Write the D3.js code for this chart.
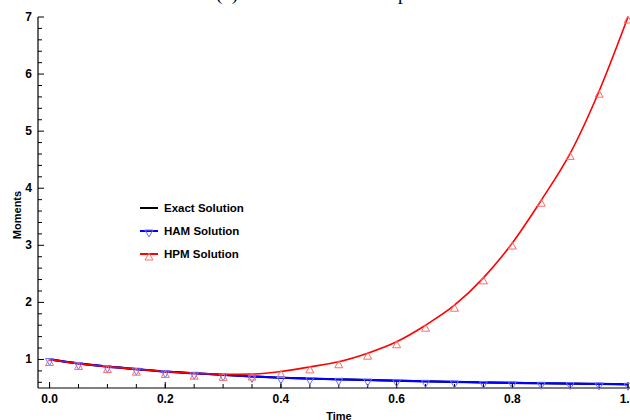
<!DOCTYPE html>
<html>
<head>
<meta charset="utf-8">
<script src="https://cdn.jsdelivr.net/npm/d3@7"></script>
<style>
  body { margin: 0; background: #fff; }
  svg { display: block; font-family: "Liberation Sans", Arial, sans-serif; }
</style>
</head>
<body>
<script>
// data
var times = [0, 0.05, 0.1, 0.15, 0.2, 0.25, 0.3, 0.35, 0.4, 0.45, 0.5,
             0.55, 0.6, 0.65, 0.7, 0.75, 0.8, 0.85, 0.9, 0.95, 1.0];
var exactVals = [1.0, 0.93, 0.875, 0.83, 0.787, 0.758, 0.73, 0.703, 0.68, 0.665, 0.652,
                 0.64, 0.628, 0.617, 0.607, 0.598, 0.59, 0.583, 0.577, 0.571, 0.565];
var hamVals = exactVals.slice();
var hpmVals = [1.0, 0.93, 0.875, 0.83, 0.79, 0.76, 0.74, 0.745, 0.79, 0.87, 0.96,
               1.11, 1.31, 1.60, 1.95, 2.43, 3.04, 3.79, 4.61, 5.70, 7.0];
var xTicks = [0, 0.2, 0.4, 0.6, 0.8, 1.0];
var yTicks = [1, 2, 3, 4, 5, 6, 7];
var legendNames = ["Exact Solution", "HAM Solution", "HPM Solution"];

var width = 630, height = 420;

var svg = d3.select("body").append("svg")
  .attr("width", width)
  .attr("height", height);

var x = d3.scaleLinear().domain([-0.02, 1.0]).range([38, 628]);
var y = d3.scaleLinear().domain([0.5, 7]).range([388, 17]);

// title (cut off at the top like the original)
svg.append("text")
  .attr("x", 216).attr("y", 0)
  .attr("font-family", "Liberation Serif, serif")
  .attr("font-size", 19)
  .text("(b) Zeroth moment comparison");

// y axis
var yAxis = svg.append("g").attr("transform", "translate(38,0)");
yAxis.append("line").attr("x1", 0).attr("x2", 0).attr("y1", y(7)).attr("y2", y(0.5))
  .attr("stroke", "#000").attr("stroke-width", 1.2);
yAxis.selectAll(".minor").data(d3.range(6, 70, 2).map(function(d) { return d / 10; }).filter(function(d) { return d % 1 !== 0; }))
  .enter().append("line")
  .attr("x1", 0).attr("x2", 4)
  .attr("y1", function(d) { return y(d); }).attr("y2", function(d) { return y(d); })
  .attr("stroke", "#000");
yAxis.selectAll(".major").data(yTicks).enter().append("line")
  .attr("x1", 0).attr("x2", 6)
  .attr("y1", function(d) { return y(d); }).attr("y2", function(d) { return y(d); })
  .attr("stroke", "#000");
yAxis.selectAll("text").data(yTicks).enter().append("text")
  .attr("x", -6).attr("y", function(d) { return y(d) + 4; })
  .attr("text-anchor", "end")
  .attr("font-size", 12).attr("font-weight", "bold")
  .text(function(d) { return d; });

// x axis
var xAxis = svg.append("g").attr("transform", "translate(0,388)");
xAxis.append("line").attr("x1", 38).attr("x2", 630).attr("y1", 0).attr("y2", 0)
  .attr("stroke", "#000").attr("stroke-width", 1.2);
xAxis.selectAll(".minor").data(times).enter().append("line")
  .attr("x1", function(d) { return x(d); }).attr("x2", function(d) { return x(d); })
  .attr("y1", 0).attr("y2", -4)
  .attr("stroke", "#000");
xAxis.selectAll(".major").data(xTicks).enter().append("line")
  .attr("x1", function(d) { return x(d); }).attr("x2", function(d) { return x(d); })
  .attr("y1", 0).attr("y2", -6)
  .attr("stroke", "#000");
xAxis.selectAll("text").data(xTicks).enter().append("text")
  .attr("x", function(d) { return x(d); }).attr("y", 15)
  .attr("text-anchor", "middle")
  .attr("font-size", 12).attr("font-weight", "bold")
  .text(function(d) { return d.toFixed(1); });

// axis labels
svg.append("text")
  .attr("transform", "translate(21,215) rotate(-90)")
  .attr("text-anchor", "middle")
  .attr("font-size", 11).attr("font-weight", "bold")
  .text("Moments");
svg.append("text")
  .attr("x", 339).attr("y", 420)
  .attr("text-anchor", "middle")
  .attr("font-size", 11).attr("font-weight", "bold")
  .text("Time");

// lines
var line = d3.line()
  .x(function(d, i) { return x(times[i]); })
  .y(function(d) { return y(d); })
  .curve(d3.curveMonotoneX);

svg.append("path").datum(exactVals).attr("d", line)
  .attr("fill", "none").attr("stroke", "#000").attr("stroke-width", 2);
svg.append("path").datum(hamVals).attr("d", line)
  .attr("fill", "none").attr("stroke", "#0000ff").attr("stroke-width", 2.2);
svg.append("path").datum(hpmVals).attr("d", line)
  .attr("fill", "none").attr("stroke", "#ff0000").attr("stroke-width", 1.6);

// markers
function downTri(cx, cy) {
  return "M" + (cx - 4) + "," + (cy - 1) + "L" + (cx + 4) + "," + (cy - 1) + "L" + cx + "," + (cy + 6) + "Z";
}
function upTri(cx, cy) {
  return "M" + cx + "," + (cy - 1) + "L" + (cx + 4) + "," + (cy + 6) + "L" + (cx - 4) + "," + (cy + 6) + "Z";
}
svg.selectAll(".ham").data(hamVals).enter().append("path")
  .attr("d", function(d, i) { return downTri(x(times[i]), y(d)); })
  .attr("fill", "none").attr("stroke", "#6f6fff").attr("stroke-width", 1);
svg.selectAll(".hpm").data(hpmVals).enter().append("path")
  .attr("d", function(d, i) { return upTri(x(times[i]), y(d)); })
  .attr("fill", "none").attr("stroke", "#ff6a6a").attr("stroke-width", 1);

// legend
var legendColors = ["#000", "#0000ff", "#ff0000"];
var legend = svg.append("g");
legendNames.forEach(function(name, i) {
  var ly = 208 + i * 23;
  legend.append("line").attr("x1", 140).attr("x2", 158).attr("y1", ly).attr("y2", ly)
    .attr("stroke", legendColors[i]).attr("stroke-width", 2);
  if (i === 1) legend.append("path").attr("d", downTri(149, ly)).attr("fill", "none").attr("stroke", "#6f6fff");
  if (i === 2) legend.append("path").attr("d", upTri(149, ly)).attr("fill", "none").attr("stroke", "#ff6a6a");
  legend.append("text").attr("x", 164).attr("y", ly + 4)
    .attr("font-size", 11.5).attr("font-weight", "bold")
    .text(name);
});
</script>
</body>
</html>
